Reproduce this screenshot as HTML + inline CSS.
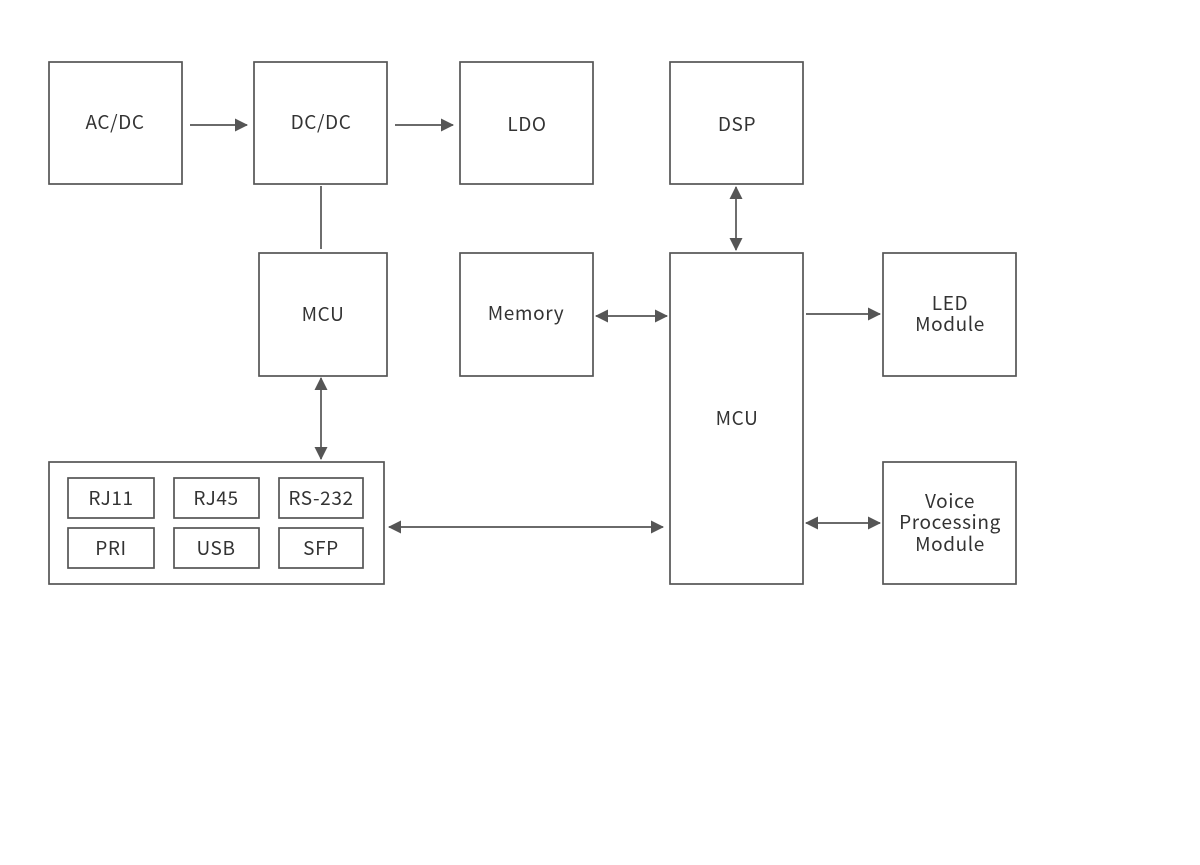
<!DOCTYPE html>
<html><head><meta charset="utf-8"><style>
html,body{margin:0;padding:0;background:#fff;}
svg{display:block}
text{font-family:"Noto Sans CJK SC","Liberation Sans",sans-serif;font-size:19px;fill:#333;letter-spacing:0.6px;text-anchor:middle;}
rect{fill:none;stroke:#555;stroke-width:1.7;}
line{stroke:#555;stroke-width:1.7;}
</style></head><body>
<svg width="1200" height="865" viewBox="0 0 1200 865" xmlns="http://www.w3.org/2000/svg">
<defs>
<marker id="a" markerWidth="13" markerHeight="13" refX="12" refY="6.5" orient="auto-start-reverse" markerUnits="userSpaceOnUse"><path d="M0,0 L13,6.5 L0,13 Z" fill="#555"/></marker>
</defs>
<rect x="49" y="62" width="133" height="122"/>
<rect x="254" y="62" width="133" height="122"/>
<rect x="460" y="62" width="133" height="122"/>
<rect x="670" y="62" width="133" height="122"/>
<rect x="259" y="253" width="128" height="123"/>
<rect x="460" y="253" width="133" height="123"/>
<rect x="670" y="253" width="133" height="331"/>
<rect x="883" y="253" width="133" height="123"/>
<rect x="883" y="462" width="133" height="122"/>
<rect x="49" y="462" width="335" height="122"/>
<rect x="68" y="478" width="86" height="40"/>
<rect x="174" y="478" width="85" height="40"/>
<rect x="279" y="478" width="84" height="40"/>
<rect x="68" y="528" width="86" height="40"/>
<rect x="174" y="528" width="85" height="40"/>
<rect x="279" y="528" width="84" height="40"/>
<text x="115" y="129">AC/DC</text>
<text x="321" y="129">DC/DC</text>
<text x="527" y="131">LDO</text>
<text x="737" y="131">DSP</text>
<text x="323" y="321">MCU</text>
<text x="526" y="320">Memory</text>
<text x="737" y="425">MCU</text>
<text x="950" y="310">LED</text>
<text x="950" y="331">Module</text>
<text x="950" y="508">Voice</text>
<text x="950" y="529">Processing</text>
<text x="950" y="551">Module</text>
<text x="111" y="505">RJ11</text>
<text x="216" y="505">RJ45</text>
<text x="321" y="505">RS-232</text>
<text x="111" y="555">PRI</text>
<text x="216" y="555">USB</text>
<text x="321" y="555">SFP</text>
<line x1="190" y1="125" x2="247" y2="125" marker-end="url(#a)"/>
<line x1="395" y1="125" x2="453" y2="125" marker-end="url(#a)"/>
<line x1="321" y1="186" x2="321" y2="249"/>
<line x1="321" y1="378" x2="321" y2="459" marker-start="url(#a)" marker-end="url(#a)"/>
<line x1="736" y1="187" x2="736" y2="250" marker-start="url(#a)" marker-end="url(#a)"/>
<line x1="596" y1="316" x2="667" y2="316" marker-start="url(#a)" marker-end="url(#a)"/>
<line x1="806" y1="314" x2="880" y2="314" marker-end="url(#a)"/>
<line x1="389" y1="527" x2="663" y2="527" marker-start="url(#a)" marker-end="url(#a)"/>
<line x1="806" y1="523" x2="880" y2="523" marker-start="url(#a)" marker-end="url(#a)"/>
</svg>
</body></html>
